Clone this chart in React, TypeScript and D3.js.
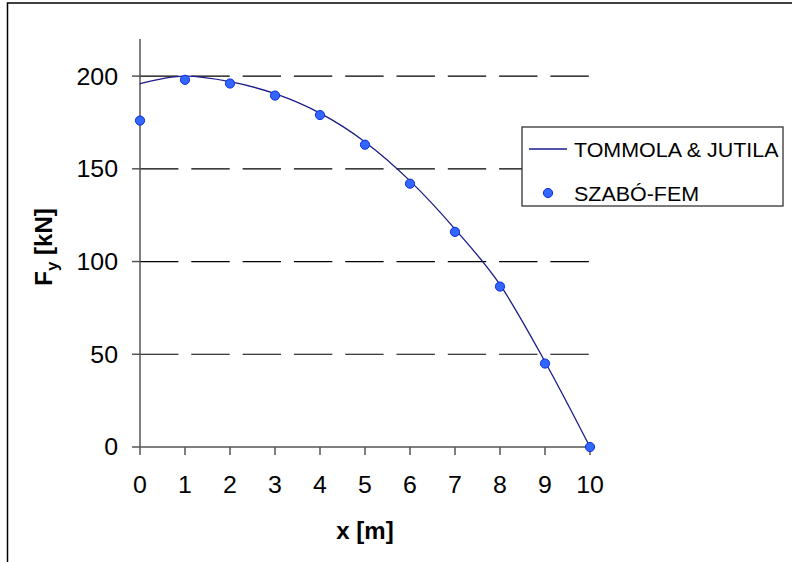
import React from "react";
import * as d3 from "d3";

const xTicks = [0, 1, 2, 3, 4, 5, 6, 7, 8, 9, 10];
const yTicks = [0, 50, 100, 150, 200];
const lineX = [0, 1, 2, 3, 4, 5, 6, 7, 8, 9, 10];
const lineY = [196, 200, 197, 190.5, 180, 164.5, 143.5, 117.5, 87.5, 46, 0];
const femX = [0, 1, 2, 3, 4, 5, 6, 7, 8, 9, 10];
const femY = [176, 198, 196, 189.5, 179, 163, 142, 116, 86.5, 45, 0];
const seriesNames = ["TOMMOLA & JUTILA", "SZABÓ-FEM"];

const W = 792;
const H = 562;
const FONT = "Liberation Sans, Arial, sans-serif";

export default function App() {
  const x = d3.scaleLinear().domain([0, 10]).range([140, 590]);
  const y = d3.scaleLinear().domain([0, 220]).range([447, 39]);

  const lineData = lineX.map((v, i) => [v, lineY[i]] as [number, number]);
  const lineGen = d3
    .line<[number, number]>()
    .x((d) => x(d[0]))
    .y((d) => y(d[1]))
    .curve(d3.curveMonotoneX);

  const axisColor = "#555";
  const lineColor = "#1a1a8a";
  const ptFill = "#3366ff";
  const ptStroke = "#0a2ee0";

  return (
    <svg
      width={W}
      height={H}
      style={{ position: "absolute", left: 0, top: 0, background: "#fff" }}
      fontFamily={FONT}
    >
      <rect x={0} y={0} width={W} height={H} fill="#fff" />
      <rect x={7.5} y={3} width={900} height={700} fill="none" stroke="#000" strokeWidth={1.5} />

      {/* grid lines */}
      {yTicks
        .filter((t) => t > 0)
        .map((t) => (
          <line
            key={"g" + t}
            x1={x(0)}
            x2={x(10)}
            y1={y(t)}
            y2={y(t)}
            stroke="#000"
            strokeWidth={1.2}
            strokeDasharray="38.4 12.9"
          />
        ))}

      {/* y axis */}
      <line x1={x(0)} x2={x(0)} y1={y(220)} y2={y(0)} stroke={axisColor} strokeWidth={1.5} />
      {yTicks.map((t) => (
        <g key={"yt" + t}>
          <line x1={x(0) - 8} x2={x(0)} y1={y(t)} y2={y(t)} stroke={axisColor} strokeWidth={1.5} />
          <text
            x={118}
            y={y(t)}
            dy="0.36em"
            textAnchor="end"
            fontSize={23.5}
            fill="#000"
            transform={`translate(${118},0) scale(1.06,1) translate(${-118},0)`}
          >
            {t}
          </text>
        </g>
      ))}

      {/* x axis */}
      <line x1={x(0)} x2={x(10)} y1={y(0)} y2={y(0)} stroke={axisColor} strokeWidth={1.5} />
      {xTicks.map((t) => (
        <g key={"xt" + t}>
          <line x1={x(t)} x2={x(t)} y1={y(0)} y2={y(0) + 8} stroke={axisColor} strokeWidth={1.5} />
          <text
            x={x(t)}
            y={493}
            textAnchor="middle"
            fontSize={23.5}
            fill="#000"
            transform={`translate(${x(t)},0) scale(1.06,1) translate(${-x(t)},0)`}
          >
            {t}
          </text>
        </g>
      ))}

      {/* axis titles */}
      <text x={365} y={539} textAnchor="middle" fontSize={24} fontWeight="bold" fill="#000">
        x [m]
      </text>
      <text
        transform="translate(52,247) rotate(-90)"
        textAnchor="middle"
        fontSize={24}
        fontWeight="bold"
        fill="#000"
      >
        F<tspan fontSize={17} dy={6}>y</tspan>
        <tspan dy={-6}> [kN]</tspan>
      </text>

      {/* series line */}
      <path d={lineGen(lineData) || ""} fill="none" stroke={lineColor} strokeWidth={1.3} />

      {/* points */}
      {femX.map((v, i) => (
        <circle
          key={"p" + i}
          cx={x(v)}
          cy={y(femY[i])}
          r={4.6}
          fill={ptFill}
          stroke={ptStroke}
          strokeWidth={1}
        />
      ))}

      {/* legend */}
      <rect x={522} y={127} width={261} height={79} fill="#fff" stroke="#333" strokeWidth={1.3} />
      <line x1={529} x2={567} y1={149} y2={149} stroke={lineColor} strokeWidth={1.3} />
      <text
        x={574}
        y={157}
        fontSize={19.5}
        fill="#000"
        transform="translate(574,0) scale(1.1,1) translate(-574,0)"
      >
        {seriesNames[0]}
      </text>
      <circle cx={548} cy={193} r={4.6} fill={ptFill} stroke={ptStroke} strokeWidth={1} />
      <text
        x={574}
        y={201}
        fontSize={19.5}
        fill="#000"
        transform="translate(574,0) scale(1.1,1) translate(-574,0)"
      >
        {seriesNames[1]}
      </text>
    </svg>
  );
}
